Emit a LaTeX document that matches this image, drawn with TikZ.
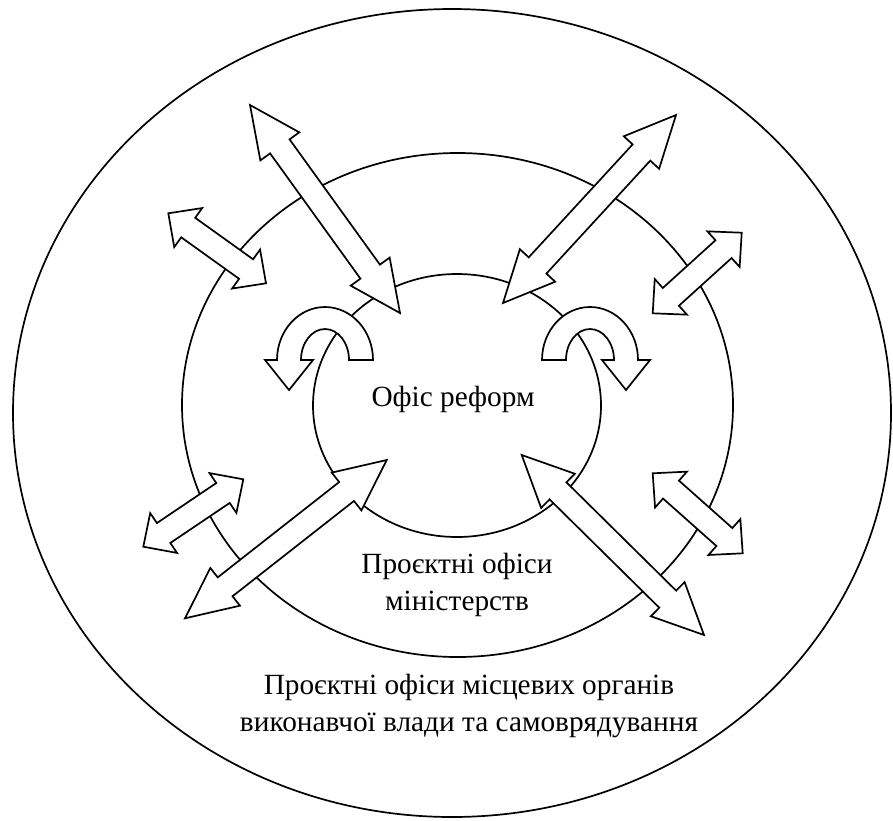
\documentclass[tikz,border=0pt]{standalone}
\usepackage{fontspec}
\setmainfont{Liberation Serif}
\usetikzlibrary{calc}

\newcommand{\headw}{24pt}
\newcommand{\shaftw}{12pt}
% block double arrow between two named points, #3 = head length
\newcommand{\dblarrow}[3]{%
  \draw[arrowbox] (#1)
    -- ($(#1)!#3!(#2)!\headw!90:(#2)$)
    -- ($(#1)!#3!(#2)!\shaftw!90:(#2)$)
    -- ($(#2)!#3!(#1)!\shaftw!90:(#2)$)
    -- ($(#2)!#3!(#1)!\headw!90:(#2)$)
    -- (#2)
    -- ($(#2)!#3!(#1)!\headw!-90:(#2)$)
    -- ($(#2)!#3!(#1)!\shaftw!-90:(#2)$)
    -- ($(#1)!#3!(#2)!\shaftw!-90:(#2)$)
    -- ($(#1)!#3!(#2)!\headw!-90:(#2)$)
    -- cycle;}

\begin{document}
\begin{tikzpicture}[x=1pt,y=-1pt,
  ring/.style={line width=1.7pt},
  arrowbox/.style={line width=1.7pt,fill=white},
  label/.style={font=\fontsize{29.3}{37}\selectfont,align=center,inner sep=0pt}]
\useasboundingbox (0,0) rectangle (893,820);
\draw[ring] (452,413) ellipse[x radius=439pt,y radius=404pt];
\draw[ring] (457.5,405) ellipse[x radius=275.5pt,y radius=252pt];
\draw[ring] (457,405.5) ellipse[x radius=144pt,y radius=131.5pt];

\coordinate (ulbiga) at (250,105);
\coordinate (ulbigb) at (400,313);
\coordinate (urbiga) at (676,115);
\coordinate (urbigb) at (503,303);
\coordinate (llbiga) at (185,618.3);
\coordinate (llbigb) at (386.7,460);
\coordinate (lrbiga) at (521.7,455);
\coordinate (lrbigb) at (704,635);
\coordinate (ulsma) at (168.3,213.3);
\coordinate (ulsmb) at (266,283.3);
\coordinate (ursma) at (741.7,232.7);
\coordinate (ursmb) at (652.7,313.3);
\coordinate (llsma) at (143.3,546.7);
\coordinate (llsmb) at (243.3,479.3);
\coordinate (lrsma) at (652.7,473.3);
\coordinate (lrsmb) at (742.7,553.3);

\dblarrow{ulbiga}{ulbigb}{51pt}
\dblarrow{urbiga}{urbigb}{51pt}
\dblarrow{llbiga}{llbigb}{51pt}
\dblarrow{lrbiga}{lrbigb}{51pt}
\dblarrow{ulsma}{ulsmb}{24.5pt}
\dblarrow{ursma}{ursmb}{24.5pt}
\dblarrow{llsma}{llsmb}{24.5pt}
\dblarrow{lrsma}{lrsmb}{24.5pt}

% turning arrows
\draw[arrowbox] (373,360) -- (349,360) arc[start angle=0,end angle=180,x radius=24pt,y radius=31pt]
  -- (313,360) -- (289,390) -- (265,360) -- (277,360)
  arc[start angle=180,end angle=0,x radius=48pt,y radius=53pt] -- cycle;
\draw[arrowbox] (542,360) -- (566,360) arc[start angle=180,end angle=0,x radius=24pt,y radius=31pt]
  -- (602,360) -- (626,390) -- (650,360) -- (638,360)
  arc[start angle=0,end angle=180,x radius=48pt,y radius=53pt] -- cycle;

\node[label,anchor=base] (office) at (453,406) {Офіс реформ};
\node[label] (ministry) at (457,585) {Проєктні офіси\\міністерств};
\node[label] (local) at (469,706) {Проєктні офіси місцевих органів\\виконавчої влади та самоврядування};
\end{tikzpicture}
\end{document}
